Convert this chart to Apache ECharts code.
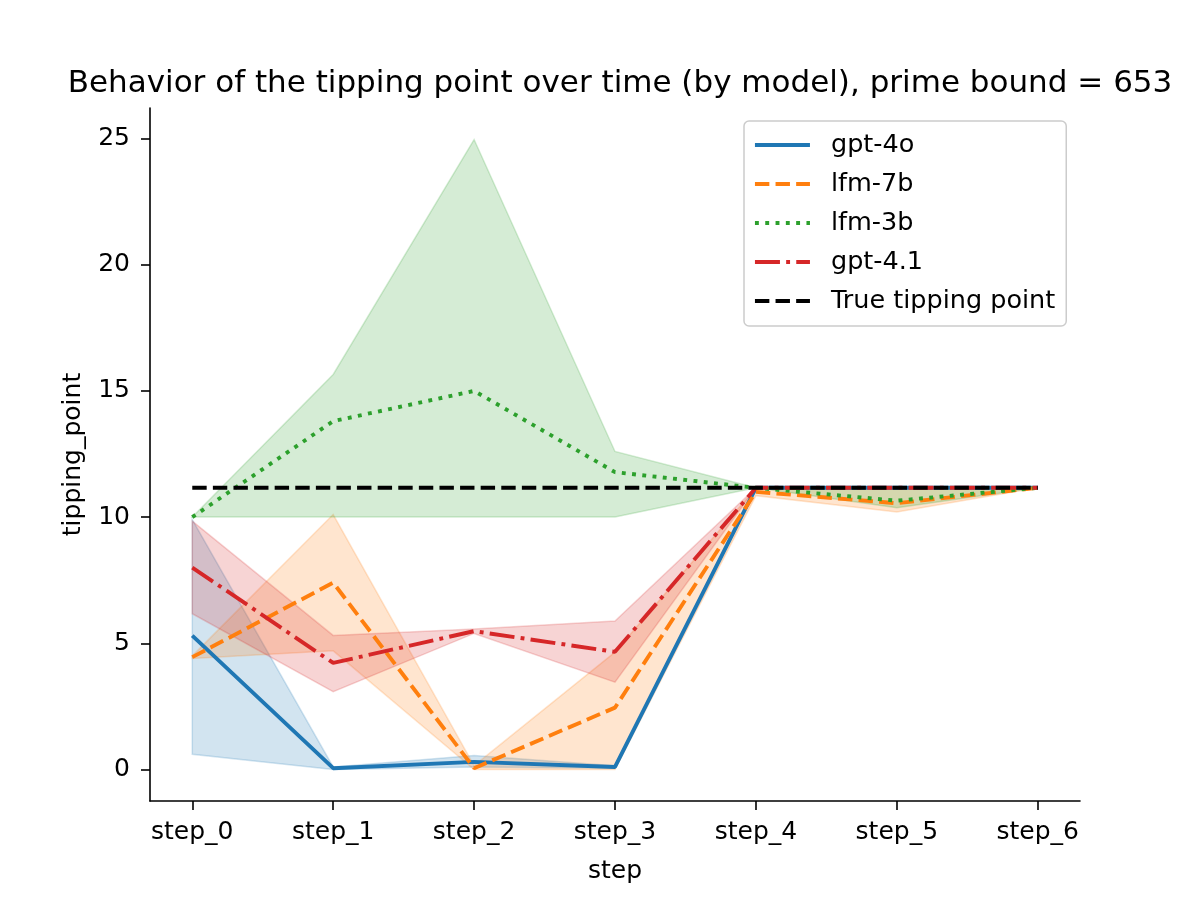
<!DOCTYPE html>
<html>
<head>
<meta charset="utf-8">
<script src="https://cdn.jsdelivr.net/npm/echarts@6/dist/echarts.min.js"></script>
<style>
  html, body { margin: 0; padding: 0; background: #fff; }
  #main { width: 1200px; height: 900px; }
</style>
</head>
<body>
<div id="main"></div>
<script>
// x 轴类别
var steps = ['step_0', 'step_1', 'step_2', 'step_3', 'step_4', 'step_5', 'step_6'];
var yTicks = [0, 5, 10, 15, 20, 25];

// 各模型均值与置信区间
var gpt4oMean = [5.3, 0.05, 0.3, 0.1, 11.16, 11.16, 11.16];
var gpt4oLow = [0.6, 0.0, 0.1, 0.05, 11.16, 11.16, 11.16];
var gpt4oHigh = [9.9, 0.1, 0.55, 0.15, 11.16, 11.16, 11.16];

var lfm7bMean = [4.45, 7.4, 0.05, 2.45, 11.0, 10.55, 11.16];
var lfm7bLow = [4.4, 4.7, 0.0, 0.0, 10.85, 10.2, 11.16];
var lfm7bHigh = [4.5, 10.1, 0.15, 4.65, 11.16, 11.1, 11.16];

var lfm3bMean = [10.0, 13.8, 15.0, 11.78, 11.16, 10.65, 11.16];
var lfm3bLow = [10.0, 10.0, 10.0, 10.0, 11.16, 10.37, 11.16];
var lfm3bHigh = [10.0, 15.65, 24.96, 12.6, 11.16, 11.16, 11.16];

var gpt41Mean = [8.0, 4.22, 5.48, 4.66, 11.16, 11.16, 11.16];
var gpt41Low = [6.17, 3.08, 5.39, 3.46, 11.16, 11.16, 11.16];
var gpt41High = [9.84, 5.31, 5.57, 5.88, 11.16, 11.16, 11.16];

var trueTipping = [11.16, 11.16, 11.16, 11.16, 11.16, 11.16, 11.16];

var FONT = 'DejaVu Sans';
var LW = 3.9;

function pairs(arr) {
  return arr.map(function (v, i) { return [i, v]; });
}

function meanLine(name, arr, color, dash) {
  return {
    name: name,
    type: 'line',
    data: pairs(arr),
    symbol: 'none',
    silent: true,
    lineStyle: { color: color, width: LW, type: dash, cap: 'butt' },
    itemStyle: { color: color },
    z: 3
  };
}

// 置信带：上边界 + 反向下边界组成多边形
function band(low, high, color) {
  var rows = low.map(function (v, i) { return [i, v, high[i]]; });
  return {
    type: 'custom',
    silent: true,
    data: rows,
    encode: { x: 0, y: [1, 2] },
    z: 2,
    renderItem: function (params, api) {
      if (params.dataIndex !== 0) return;
      var pts = [];
      for (var i = 0; i < rows.length; i++) pts.push(api.coord([rows[i][0], rows[i][2]]));
      for (var j = rows.length - 1; j >= 0; j--) pts.push(api.coord([rows[j][0], rows[j][1]]));
      return {
        type: 'polygon',
        shape: { points: pts },
        style: { fill: color, opacity: 0.2, stroke: color, lineWidth: 1.5 }
      };
    }
  };
}

var chart = echarts.init(document.getElementById('main'));

var series = [
  meanLine('gpt-4o', gpt4oMean, '#1f77b4', 'solid'),
  band(gpt4oLow, gpt4oHigh, '#1f77b4'),
  meanLine('lfm-7b', lfm7bMean, '#ff7f0e', [14.4, 6.2]),
  band(lfm7bLow, lfm7bHigh, '#ff7f0e'),
  meanLine('lfm-3b', lfm3bMean, '#2ca02c', [3.9, 6.4]),
  band(lfm3bLow, lfm3bHigh, '#2ca02c'),
  meanLine('gpt-4.1', gpt41Mean, '#d62728', [25, 6.2, 3.9, 6.2]),
  band(gpt41Low, gpt41High, '#d62728'),
  meanLine('True tipping point', trueTipping, '#000000', [14.4, 6.2])
];

var option = {
  animation: false,
  backgroundColor: '#ffffff',
  title: {
    text: 'Behavior of the tipping point over time (by model), prime bound = 653',
    left: 615,
    textAlign: 'center',
    top: 63,
    textStyle: { fontFamily: FONT, fontSize: 31, fontWeight: 'normal', color: '#000' }
  },
  legend: {
    data: ['gpt-4o', 'lfm-7b', 'lfm-3b', 'gpt-4.1', 'True tipping point'],
    orient: 'vertical',
    left: 744,
    top: 121,
    padding: [9, 11, 10, 9],
    itemWidth: 55,
    itemHeight: 14,
    itemGap: 9,
    itemStyle: { opacity: 0 },
    lineStyle: { width: LW },
    backgroundColor: 'rgba(255,255,255,0.8)',
    borderColor: '#cccccc',
    borderWidth: 1.5,
    borderRadius: 5,
    textStyle: { fontFamily: FONT, fontSize: 25.5, color: '#000', lineHeight: 30, padding: [0, 0, 0, 16] }
  },
  grid: { left: 150, right: 120, top: 108, bottom: 99, containLabel: false },
  xAxis: {
    type: 'value',
    min: -0.3,
    max: 6.3,
    name: 'step',
    nameLocation: 'middle',
    nameGap: 58,
    nameTextStyle: { fontFamily: FONT, fontSize: 25, color: '#000' },
    splitLine: { show: false },
    axisLine: { show: true, onZero: false, lineStyle: { color: '#000', width: 1.6 } },
    axisTick: { show: true, length: 9, lineStyle: { color: '#000', width: 1.6 }, customValues: steps.map(function (s, i) { return i; }) },
    axisLabel: {
      fontFamily: FONT, fontSize: 25, color: '#000', margin: 19,
      customValues: steps.map(function (s, i) { return i; }),
      formatter: function (v) { return steps[Math.round(v)]; }
    }
  },
  yAxis: {
    type: 'value',
    min: -1.25,
    max: 26.21,
    name: 'tipping_point',
    nameLocation: 'middle',
    nameGap: 64,
    nameTextStyle: { fontFamily: FONT, fontSize: 25, color: '#000' },
    splitLine: { show: false },
    axisLine: { show: true, onZero: false, lineStyle: { color: '#000', width: 1.6 } },
    axisTick: { show: true, length: 9, lineStyle: { color: '#000', width: 1.6 }, customValues: yTicks },
    axisLabel: { fontFamily: FONT, fontSize: 25, color: '#000', margin: 20, customValues: yTicks }
  },
  series: series
};

chart.setOption(option);
</script>
</body>
</html>
